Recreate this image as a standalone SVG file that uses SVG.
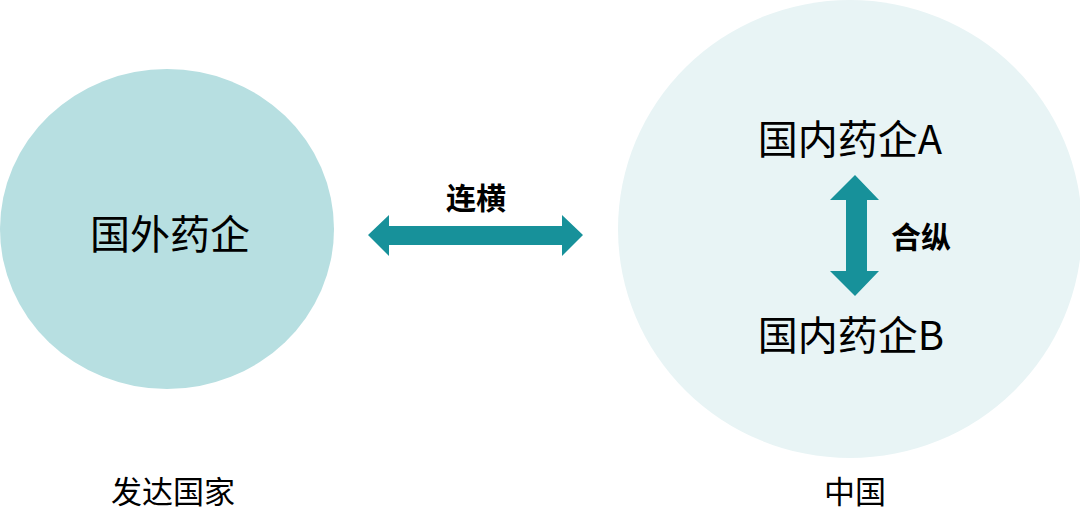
<svg xmlns="http://www.w3.org/2000/svg" width="1080" height="528" viewBox="0 0 1080 528">
<style>
.t{font-family:"Noto Sans CJK SC","Noto Sans",sans-serif;fill:#000;text-anchor:middle}
.big{font-size:40px}
.lab{font-size:30px;font-weight:bold}
.cap{font-size:31px}
.arr{fill:#17919A}
</style>
<rect width="1080" height="528" fill="#fff"/>
<g id="foreign">
<ellipse cx="167" cy="229" rx="167" ry="160" fill="#B7DFE1"/>
<text class="t big" x="170" y="249">国外药企</text>
</g>
<g id="china">
<ellipse cx="850" cy="229" rx="232" ry="229" fill="#E8F4F5"/>
<text class="t big" x="850" y="154">国内药企A</text>
<text class="t big" x="851" y="350">国内药企B</text>
</g>
<g id="connectors">
<polygon class="arr" points="368,235 389,215 389,226 562,226 562,215 583,235 562,256 562,245 389,245 389,256"/>
<polygon class="arr" points="855,175 879,200 867,200 867,271 879,271 855,296 830,271 846,271 846,200 830,200"/>
</g>
<g id="labels">
<text class="t lab" x="476" y="209">连横</text>
<text class="t lab" x="921" y="248">合纵</text>
<text class="t cap" x="173" y="503">发达国家</text>
<text class="t cap" x="855" y="503">中国</text>
</g>
</svg>
